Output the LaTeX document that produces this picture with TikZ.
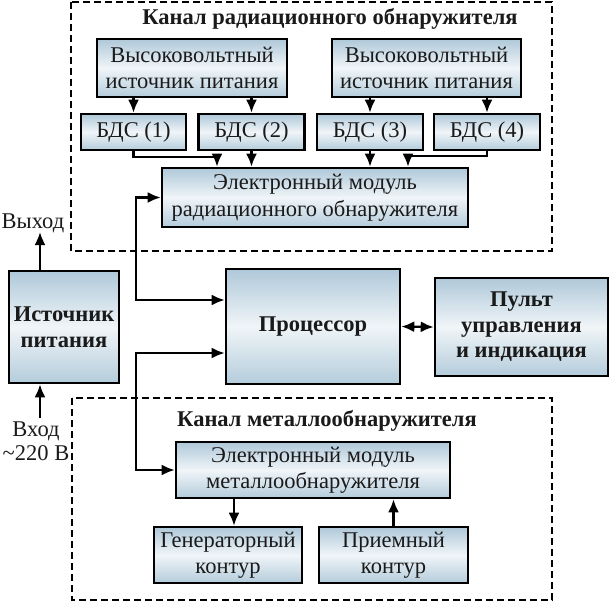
\documentclass[tikz,border=0pt]{standalone}
\usepackage{fontspec}
\setmainfont{Liberation Serif}
\newfontfamily\schemefont{Liberation Serif}
\usetikzlibrary{arrows.meta,positioning,calc}
\definecolor{Ink}{HTML}{1A1A1A}
\definecolor{BoxTop}{HTML}{AFC8D9}
\definecolor{BoxMid}{HTML}{F0F5F8}
\definecolor{BoxBot}{HTML}{B4CCDB}
\tikzset{
  >={Latex[length=13pt,width=11pt]},
  blk/.style={draw=black,line width=2.6pt,top color=BoxTop,bottom color=BoxBot,middle color=BoxMid,
    align=center,inner sep=0pt,text=Ink,font=\schemefont\fontsize{22.5}{26.5}\selectfont},
  blkbold/.style={blk,font=\schemefont\fontsize{22.5}{25.5}\selectfont\bfseries},
  arr/.style={->,line width=2.2pt,draw=black},
  biarr/.style={<->,line width=2.2pt,draw=black},
  frame/.style={dashed,dash pattern=on 7pt off 4pt,line width=2.2pt,draw=black},
  ttl/.style={font=\schemefont\fontsize{22.5}{26}\selectfont\bfseries,text=Ink,inner sep=0pt},
  lab/.style={font=\schemefont\fontsize{22.5}{24}\selectfont,text=Ink,align=center,inner sep=0pt}
}
\begin{document}
\begin{tikzpicture}[x=1pt,y=-1pt]
    \useasboundingbox (0,0) rectangle (610,603);
    % frames of the two channels
    \draw[frame] (71,2) rectangle (552,251);
    \draw[frame] (72,398) rectangle (552,600);
    \node[ttl] (ttlR) at (330,19) {Канал радиационного обнаружителя};
    \node[ttl] (ttlM) at (327,421) {Канал металлообнаружителя};
    % radiation channel
    \node[blk,minimum width=190pt,minimum height=58pt] (hvA) at (192,68) {Высоковольтный\\источник питания};
    \node[blk,minimum width=189pt,minimum height=58pt] (hvB) at (426.5,68) {Высоковольтный\\источник питания};
    \node[blk,minimum width=105pt,minimum height=36pt] (bdsA) at (133.5,132) {БДС (1)};
    \node[blk,minimum width=106pt,minimum height=36pt] (bdsB) at (251.5,132) {БДС (2)};
    \node[blk,minimum width=106pt,minimum height=36pt] (bdsC) at (370,132) {БДС (3)};
    \node[blk,minimum width=106pt,minimum height=36pt] (bdsD) at (487,132) {БДС (4)};
    \node[blk,minimum width=306pt,minimum height=59pt] (emR) at (315,197.5) {Электронный модуль\\радиационного обнаружителя};
    % centre row
    \node[blkbold,minimum width=110pt,minimum height=112pt] (psu) at (64,327) {Источник\\питания};
    \node[blkbold,minimum width=174pt,minimum height=115pt] (proc) at (313,326.5) {Процессор};
    \node[blkbold,minimum width=173pt,minimum height=98pt] (pult) at (521.5,327) {Пульт\\управления\\и индикация};
    % metal channel
    \node[blk,minimum width=274pt,minimum height=56pt] (emM) at (313,470) {Электронный модуль\\металлообнаружителя};
    \node[blk,minimum width=148pt,minimum height=56pt] (gen) at (228,555) {Генераторный\\контур};
    \node[blk,minimum width=149pt,minimum height=56pt] (rcv) at (393.5,555) {Приемный\\контур};
    % supply labels
    \node[lab] (vout) at (33,223) {Выход};
    \node[lab] (vin) at (36,441) {Вход\\\textasciitilde220 В};
    \coordinate (outEnd) at (40,232);
    \coordinate (inStart) at (40,418);
    \coordinate (jA) at (217,157);
    \coordinate (jD) at (408,156);
    \coordinate (busA) at (136,300);
    \coordinate (busB) at (136,353);
    % connectors
    \draw[arr] (hvA.south -| bdsA) -- (bdsA.north);
    \draw[arr] (hvA.south -| bdsB) -- (bdsB.north);
    \draw[arr] (hvB.south -| bdsC) -- (bdsC.north);
    \draw[arr] (hvB.south -| bdsD) -- (bdsD.north);
    \draw[arr] (bdsA.south) |- (jA) -- (jA |- emR.north);
    \draw[arr] (bdsB.south) -- (bdsB.south |- emR.north);
    \draw[arr] (bdsC.south) -- (bdsC.south |- emR.north);
    \draw[arr] (bdsD.south) |- (jD) -- (jD |- emR.north);
    \draw[biarr] (emR.west) -| (busA) -- (busA -| proc.west);
    \draw[biarr] (emM.west) -| (busB) -- (busB -| proc.west);
    \draw[biarr] (proc.east) -- (pult.west);
    \draw[arr] (psu.north -| outEnd) -- (outEnd);
    \draw[arr] (inStart) -- (inStart |- psu.south);
    \draw[arr] (emM.south -| 234,0) -- (gen.north -| 234,0);
    \draw[arr] (rcv.north) -- (rcv.north |- emM.south);
  \end{tikzpicture}
\end{document}
